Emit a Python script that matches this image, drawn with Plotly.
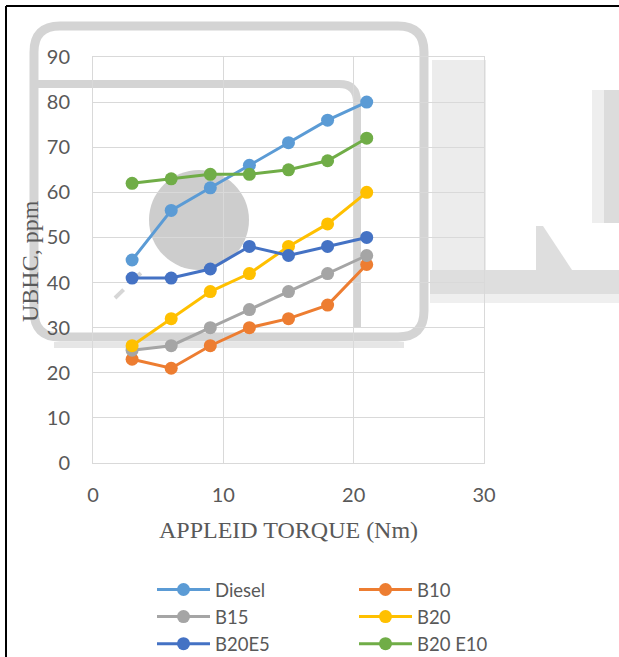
import plotly.graph_objects as go

# Applied torque (Nm) and unburnt hydrocarbon readings (ppm)
torque = [3, 6, 9, 12, 15, 18, 21]
diesel = [45, 56, 61, 66, 71, 76, 80]
b10 = [23, 21, 26, 30, 32, 35, 44]
b15 = [25, 26, 30, 34, 38, 42, 46]
b20 = [26, 32, 38, 42, 48, 53, 60]
b20e5 = [41, 41, 43, 48, 46, 48, 50]
b20e10 = [62, 63, 64, 64, 65, 67, 72]

series_names = ["Diesel", "B10", "B15", "B20", "B20E5", "B20 E10"]
series_values = [diesel, b10, b15, b20, b20e5, b20e10]
series_colors = ["#5B9BD5", "#ED7D31", "#A5A5A5", "#FFC000", "#4472C4", "#70AD47"]
series_legend = ["legend", "legend2", "legend", "legend2", "legend", "legend2"]

x_ticks = [0, 10, 20, 30]
y_ticks = [0, 10, 20, 30, 40, 50, 60, 70, 80, 90]

W, H = 619, 657
ML, MR, MT, MB = 93, 135, 57, 194
PW, PH = W - ML - MR, H - MT - MB


def px(x):
    return (x - ML) / PW


def py(y):
    return (H - MB - y) / PH


def pt(x, y):
    return f"{px(x):.4f},{py(y):.4f}"


fig = go.Figure()

for name, vals, col, lg in zip(series_names, series_values, series_colors, series_legend):
    fig.add_trace(go.Scatter(
        x=torque, y=vals, name=name, mode="lines+markers",
        line=dict(color=col, width=3),
        marker=dict(color=col, size=13),
        legend=lg,
    ))

shapes = []
wm = "#d4d4d4"
wm_light = "#ececec"

# pale background bands of the logo
shapes.append(dict(type="rect", xref="paper", yref="paper", layer="below",
                   x0=px(432), x1=px(486), y0=py(60), y1=py(300),
                   fillcolor=wm_light, line=dict(width=0)))
shapes.append(dict(type="rect", xref="paper", yref="paper", layer="below",
                   x0=px(430), x1=px(619), y0=py(270), y1=py(294),
                   fillcolor="#dedede", line=dict(width=0)))
shapes.append(dict(type="rect", xref="paper", yref="paper", layer="below",
                   x0=px(430), x1=px(619), y0=py(294), y1=py(303),
                   fillcolor="#efefef", line=dict(width=0)))
shapes.append(dict(type="rect", xref="paper", yref="paper", layer="below",
                   x0=px(592), x1=px(604), y0=py(90), y1=py(223),
                   fillcolor="#eeeeee", line=dict(width=0)))
shapes.append(dict(type="rect", xref="paper", yref="paper", layer="below",
                   x0=px(604), x1=px(619), y0=py(90), y1=py(223),
                   fillcolor="#dcdcdc", line=dict(width=0)))
shapes.append(dict(type="path", xref="paper", yref="paper", layer="below",
                   path=f"M{pt(536,226)} L{pt(543,226)} L{pt(572,270)} L{pt(536,270)} Z",
                   fillcolor="#dedede", line=dict(width=0)))

# outer rounded frame of the logo
r = 26
x0, y0, x1, y1 = 34, 26, 424, 337
outer = (f"M{pt(x0 + r, y0)} L{pt(x1 - r, y0)} Q{pt(x1, y0)} {pt(x1, y0 + r)} "
         f"L{pt(x1, y1 - r)} Q{pt(x1, y1)} {pt(x1 - r, y1)} "
         f"L{pt(x0 + r, y1)} Q{pt(x0, y1)} {pt(x0, y1 - r)} "
         f"L{pt(x0, y0 + r)} Q{pt(x0, y0)} {pt(x0 + r, y0)} Z")
shapes.append(dict(type="path", xref="paper", yref="paper", layer="below",
                   path=outer, line=dict(color=wm, width=9)))
shapes.append(dict(type="path", xref="paper", yref="paper", layer="below",
                   path=f"M{pt(x0 + 20, y1 + 8)} L{pt(x1 - 20, y1 + 8)}",
                   line=dict(color="#e6e6e6", width=6)))

# inner bracket of the logo
ri = 18
xi, yi = 357, 84
inner = (f"M{pt(x0, yi)} L{pt(xi - ri, yi)} Q{pt(xi, yi)} {pt(xi, yi + ri)} "
         f"L{pt(xi, y1 - 10)}")
shapes.append(dict(type="path", xref="paper", yref="paper", layer="below",
                   path=inner, line=dict(color=wm, width=8)))

# round dot and dashed stroke of the logo
shapes.append(dict(type="circle", xref="paper", yref="paper", layer="below",
                   x0=px(149), x1=px(249), y0=py(170), y1=py(270),
                   fillcolor="#cdcdcd", line=dict(width=0)))
shapes.append(dict(type="line", xref="paper", yref="paper", layer="below",
                   x0=px(115), y0=py(298), x1=px(147), y1=py(267),
                   line=dict(color="#d6d6d6", width=4, dash="dash")))

# black page frame on the left and top
shapes.append(dict(type="line", xref="paper", yref="paper", layer="above",
                   x0=px(6), y0=py(6), x1=px(6), y1=py(H + 5),
                   line=dict(color="black", width=2)))
shapes.append(dict(type="line", xref="paper", yref="paper", layer="above",
                   x0=px(6), y0=py(6), x1=px(W + 5), y1=py(6),
                   line=dict(color="black", width=2)))

tick_font = dict(family="Lato", size=20, color="#595959")
title_font = dict(family="Liberation Serif", size=24, color="#595959")
legend_font = dict(family="Lato", size=18.5, color="#595959")
grid = "#D9D9D9"

fig.update_layout(
    width=W, height=H,
    margin=dict(l=ML, r=MR, t=MT, b=MB, autoexpand=False),
    paper_bgcolor="white", plot_bgcolor="rgba(0,0,0,0)",
    shapes=shapes,
    xaxis=dict(range=[0, 30], tickvals=x_ticks, showgrid=True, gridcolor=grid,
               gridwidth=1, zeroline=False, showline=True, linecolor=grid,
               mirror=True, ticks="", tickfont=tick_font, ticklabelstandoff=14),
    yaxis=dict(range=[0, 90], tickvals=y_ticks, showgrid=True, gridcolor=grid,
               gridwidth=1, zeroline=False, showline=True, linecolor=grid,
               mirror=True, ticks="", tickfont=tick_font, ticklabelstandoff=18),
    annotations=[
        dict(text="APPLEID TORQUE (Nm)", xref="paper", yref="paper",
             x=0.5, y=py(530), xanchor="center", yanchor="middle",
             showarrow=False, font=title_font),
        dict(text="UBHC, ppm", xref="paper", yref="paper",
             x=px(30), y=py(261), xanchor="center", yanchor="middle",
             textangle=-90, showarrow=False, font=title_font),
    ],
    legend=dict(x=px(152), y=py(571), xanchor="left", yanchor="top",
                orientation="v", itemwidth=53, tracegroupgap=0,
                font=legend_font, bgcolor="rgba(0,0,0,0)", borderwidth=0),
    legend2=dict(x=px(354), y=py(571), xanchor="left", yanchor="top",
                 orientation="v", itemwidth=53, tracegroupgap=0,
                 font=legend_font, bgcolor="rgba(0,0,0,0)", borderwidth=0),
)

fig.write_html("out.html")
